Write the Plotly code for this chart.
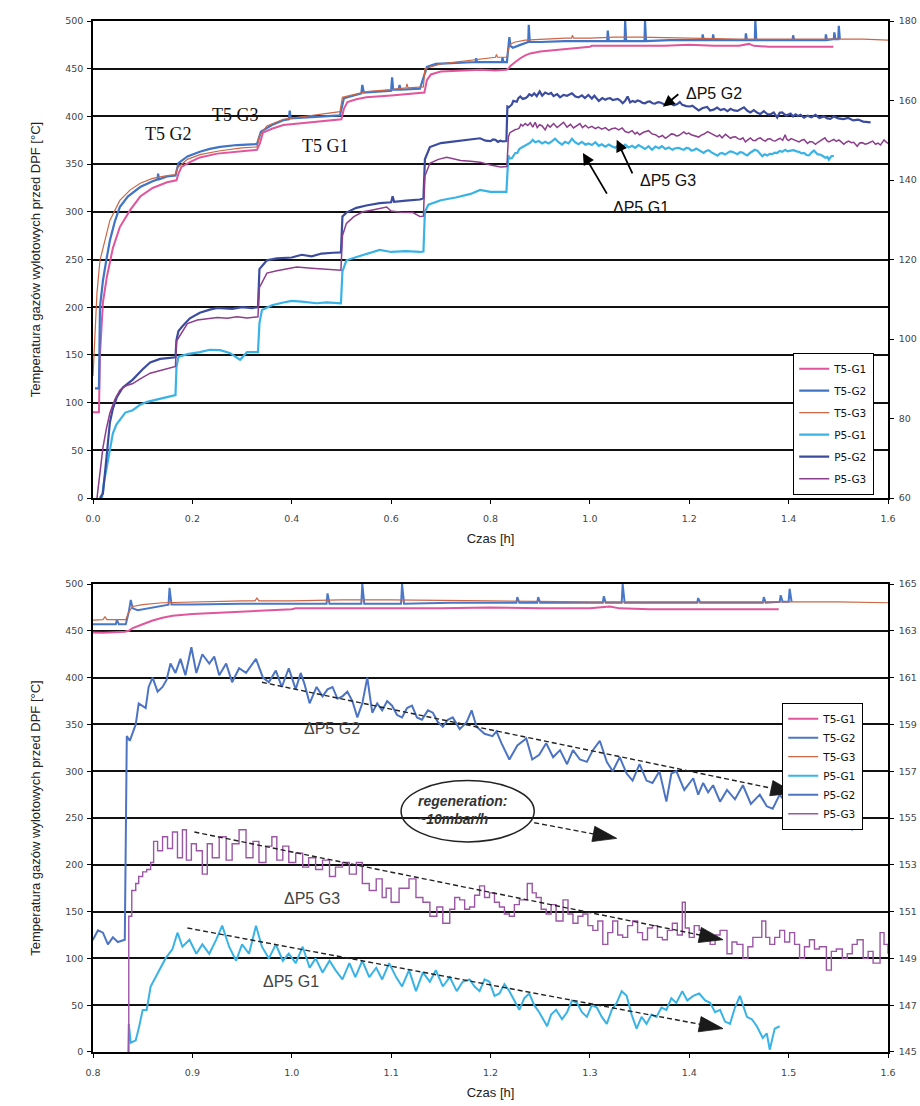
import plotly.graph_objects as go

# ---------------- DATA ----------------
# T5: exhaust gas temperature before DPF [°C] (left axis); time [h]
t5_g1_t = [0.0, 0.012, 0.014, 0.02, 0.028, 0.04, 0.054, 0.075, 0.095, 0.12,
           0.149, 0.168, 0.172, 0.178, 0.195, 0.215, 0.25, 0.282, 0.31, 0.33,
           0.336, 0.342, 0.36, 0.383, 0.42, 0.45, 0.483, 0.5, 0.505, 0.512,
           0.53, 0.55, 0.6, 0.63, 0.658, 0.667, 0.672, 0.68, 0.7, 0.74,
           0.78, 0.81, 0.832, 0.836, 0.84, 0.85, 0.86, 0.87, 0.88, 0.9,
           0.92, 0.95, 0.98, 1.0, 1.004, 1.05, 1.1, 1.15, 1.2, 1.25,
           1.3, 1.32, 1.33, 1.36, 1.4, 1.45, 1.49]
t5_g1_v = [90, 90, 150, 205, 232, 262, 284, 302, 316, 325,
           331, 333, 340, 347, 352, 357, 361, 363, 364, 365,
           372, 383, 387, 391, 393, 395, 396, 397, 408, 415,
           418, 420, 422, 423, 424, 425, 438, 444, 447, 448,
           449, 448, 449, 450, 453, 457, 461, 464, 466, 468,
           469, 471, 472, 473, 474, 474, 474, 474, 475, 474,
           474, 476, 474, 473, 473, 473, 473]

t5_g2_t = [0.004, 0.012, 0.014, 0.02, 0.027, 0.034, 0.044, 0.054, 0.07, 0.095,
           0.12, 0.13, 0.131, 0.133, 0.149, 0.166, 0.172, 0.19, 0.215, 0.235,
           0.256, 0.29, 0.33, 0.338, 0.36, 0.383, 0.394, 0.396, 0.398, 0.44,
           0.497, 0.505, 0.53, 0.54, 0.542, 0.545, 0.6, 0.602, 0.604, 0.615,
           0.617, 0.619, 0.658, 0.672, 0.69, 0.72, 0.77, 0.771, 0.773, 0.8,
           0.823, 0.824, 0.826, 0.833, 0.836, 0.838, 0.84, 0.845, 0.86, 0.876,
           0.877, 0.879, 0.9, 0.95, 1.0, 1.035, 1.036, 1.038, 1.07, 1.071,
           1.073, 1.11, 1.111, 1.113, 1.16, 1.226, 1.227, 1.229, 1.247, 1.248,
           1.25, 1.313, 1.314, 1.316, 1.332, 1.333, 1.335, 1.408, 1.409, 1.411,
           1.474, 1.475, 1.477, 1.491, 1.492, 1.494, 1.5, 1.501, 1.503]
t5_g2_v = [115, 115, 200, 228, 250, 270, 290, 305, 316, 326,
           332, 334, 340, 334, 337, 338, 351, 358, 363, 366,
           368, 370, 371, 384, 391, 396, 397, 406, 398, 399,
           401, 419, 422, 424, 433, 425, 427, 441, 428, 428,
           433, 428, 429, 452, 455, 456, 457, 461, 457, 457,
           457, 462, 457, 457, 470, 483, 474, 472, 475, 478,
           496, 478, 478, 479, 479, 479, 490, 479, 479, 500,
           479, 479, 500, 479, 480, 480, 486, 480, 480, 486,
           480, 480, 487, 480, 480, 500, 480, 480, 485, 480,
           480, 486, 480, 481, 488, 481, 481, 495, 481]

t5_g3_t = [0.0, 0.004, 0.008, 0.014, 0.02, 0.034, 0.054, 0.075, 0.095, 0.12,
           0.149, 0.166, 0.17, 0.19, 0.215, 0.256, 0.3, 0.33, 0.335, 0.35,
           0.383, 0.45, 0.497, 0.502, 0.55, 0.6, 0.63, 0.632, 0.634, 0.665,
           0.668, 0.7, 0.75, 0.8, 0.81, 0.812, 0.814, 0.833, 0.836, 0.84,
           0.85, 0.87, 0.9, 0.95, 0.963, 0.965, 0.967, 1.0, 1.05, 1.1,
           1.2, 1.3, 1.4, 1.5, 1.55, 1.6]
t5_g3_v = [128, 170, 215, 249, 262, 291, 312, 323, 330, 335,
           338, 339, 346, 355, 360, 364, 367, 368, 380, 390,
           397, 402, 405, 420, 426, 428, 430, 434, 430, 431,
           450, 455, 458, 461, 462, 465, 462, 462, 470, 476,
           478, 480, 481, 482, 482, 485, 482, 482, 483, 483,
           482, 481, 481, 481, 481, 480]

# P5: pressure drop over DPF [mbar] (right axis); time [h]
p5_g1_t = [0.018, 0.022, 0.028, 0.034, 0.04, 0.047, 0.054, 0.065, 0.08, 0.095,
           0.109, 0.13, 0.149, 0.166, 0.168, 0.172, 0.19, 0.215, 0.235, 0.256,
           0.275, 0.296, 0.31, 0.332, 0.335, 0.34, 0.36, 0.383, 0.4, 0.42,
           0.45, 0.47, 0.499, 0.502, 0.51, 0.54, 0.577, 0.6, 0.63, 0.658,
           0.665, 0.668, 0.675, 0.7, 0.73, 0.76, 0.779, 0.8, 0.832, 0.836,
           0.838, 0.843, 0.846, 0.85, 0.854, 0.858, 0.863, 0.868, 0.873, 0.88,
           0.885, 0.89, 0.897, 0.904, 0.91, 0.917, 0.924, 0.93, 0.937, 0.944,
           0.95, 0.957, 0.964, 0.97, 0.977, 0.984, 0.991, 0.997, 1.004, 1.011,
           1.018, 1.024, 1.031, 1.038, 1.044, 1.051, 1.058, 1.064, 1.071, 1.078,
           1.085, 1.091, 1.098, 1.105, 1.111, 1.118, 1.125, 1.132, 1.139, 1.145,
           1.152, 1.159, 1.166, 1.172, 1.179, 1.184, 1.189, 1.194, 1.199, 1.204,
           1.209, 1.214, 1.219, 1.224, 1.229, 1.234, 1.239, 1.244, 1.249, 1.257,
           1.261, 1.266, 1.272, 1.277, 1.282, 1.287, 1.292, 1.297, 1.302, 1.307,
           1.312, 1.317, 1.322, 1.327, 1.332, 1.337, 1.342, 1.347, 1.352, 1.357,
           1.362, 1.367, 1.372, 1.377, 1.382, 1.387, 1.393, 1.398, 1.404, 1.41,
           1.416, 1.421, 1.426, 1.431, 1.436, 1.441, 1.446, 1.451, 1.458, 1.463,
           1.468, 1.474, 1.478, 1.481, 1.486, 1.491]
p5_g1_v = [60.0, 64.0, 67.9, 72.0, 76.3, 78.5, 79.7, 81.5, 82.1, 83.5,
           84.2, 84.9, 85.4, 85.9, 93.0, 95.5, 96.2, 96.7, 97.3, 97.2,
           96.5, 94.8, 96.7, 96.7, 104.0, 107.3, 108.5, 109.2, 109.6, 109.4,
           109.0, 109.2, 109.0, 117.0, 119.8, 121.0, 122.4, 121.9, 122.1, 121.9,
           122.0, 132.0, 133.8, 134.9, 135.6, 136.5, 137.5, 137.0, 137.0, 146.2,
           145.4, 145.5, 146.0, 146.8, 146.8, 147.8, 148.2, 148.6, 149.0, 149.4,
           150.1, 149.5, 149.8, 149.2, 149.6, 149.2, 149.8, 150.4, 149.5, 148.9,
           149.6, 149.2, 150.4, 149.5, 149.0, 149.6, 148.9, 149.2, 148.8, 149.5,
           148.6, 149.0, 148.4, 148.9, 148.5, 148.1, 148.8, 148.2, 148.9, 148.2,
           148.6, 148.1, 148.8, 148.2, 147.8, 148.5, 147.6, 148.4, 148.0, 148.5,
           147.8, 148.2, 147.6, 148.0, 148.1, 147.8, 147.6, 148.1, 148.0, 147.4,
           147.5, 147.9, 147.6, 147.2, 146.8, 147.3, 147.5, 147.0, 146.7, 146.1,
           146.6, 146.8, 146.4, 146.7, 147.2, 147.1, 146.7, 146.5, 147.0, 146.9,
           146.5, 146.2, 146.8, 147.1, 147.6, 147.4, 146.6, 146.0, 146.5, 146.2,
           146.6, 146.5, 146.9, 146.8, 147.3, 147.1, 147.6, 147.2, 147.4, 147.5,
           147.2, 147.1, 146.7, 146.8, 146.3, 146.2, 146.9, 147.4, 146.5, 146.4,
           146.1, 145.6, 145.8, 145.1, 146.0, 146.1]

p5_g2_t = [0.014, 0.02, 0.027, 0.034, 0.04, 0.048, 0.06, 0.08, 0.1, 0.115,
           0.135, 0.155, 0.166, 0.168, 0.172, 0.18, 0.195, 0.215, 0.235, 0.25,
           0.28, 0.3, 0.32, 0.332, 0.335, 0.35, 0.37, 0.4, 0.42, 0.44,
           0.46, 0.483, 0.499, 0.502, 0.51, 0.53, 0.55, 0.577, 0.6, 0.603,
           0.606, 0.63, 0.658, 0.665, 0.668, 0.678, 0.7, 0.72, 0.75, 0.779,
           0.79, 0.8, 0.805, 0.81, 0.815, 0.82, 0.825, 0.832, 0.834, 0.837,
           0.843, 0.846, 0.853, 0.856, 0.86, 0.865, 0.87, 0.874, 0.878, 0.883,
           0.888, 0.893, 0.899, 0.904, 0.91, 0.917, 0.922, 0.927, 0.934, 0.94,
           0.947, 0.954, 0.959, 0.964, 0.971, 0.977, 0.984, 0.99, 0.997, 1.004,
           1.009, 1.013, 1.018, 1.025, 1.031, 1.036, 1.041, 1.046, 1.051, 1.056,
           1.061, 1.066, 1.071, 1.076, 1.081, 1.086, 1.091, 1.096, 1.101, 1.106,
           1.111, 1.116, 1.121, 1.126, 1.131, 1.137, 1.142, 1.147, 1.152, 1.157,
           1.162, 1.169, 1.176, 1.181, 1.186, 1.194, 1.202, 1.206, 1.211, 1.219,
           1.227, 1.236, 1.242, 1.249, 1.256, 1.263, 1.27, 1.277, 1.283, 1.29,
           1.297, 1.303, 1.31, 1.317, 1.323, 1.33, 1.337, 1.343, 1.35, 1.357,
           1.363, 1.37, 1.377, 1.382, 1.387, 1.395, 1.404, 1.409, 1.414, 1.419,
           1.424, 1.431, 1.438, 1.446, 1.454, 1.462, 1.471, 1.478, 1.484, 1.491,
           1.5, 1.51, 1.52, 1.53, 1.54, 1.55, 1.565]
p5_g2_v = [60.0, 61.2, 70.0, 79.0, 82.5, 85.4, 87.8, 89.8, 92.4, 94.1,
           95.0, 95.3, 95.4, 99.8, 102.0, 103.2, 105.2, 106.6, 107.4, 107.8,
           107.6, 108.0, 107.8, 108.0, 117.6, 119.8, 120.3, 120.5, 121.2, 120.8,
           121.5, 121.7, 121.8, 130.8, 131.8, 133.0, 133.6, 134.2, 134.4, 135.9,
           134.5, 134.8, 135.1, 135.4, 145.2, 148.3, 149.3, 149.6, 150.0, 150.5,
           149.9, 149.8, 150.2, 150.1, 149.6, 149.9, 149.7, 149.8, 158.5, 158.3,
           159.0, 159.9, 159.7, 160.6, 161.0, 160.4, 160.6, 160.9, 161.6, 161.2,
           161.8, 161.1, 162.3, 161.2, 162.0, 161.6, 161.9, 161.1, 161.6, 160.8,
           161.4, 161.2, 161.5, 161.8, 161.0, 160.8, 161.3, 160.6, 161.4, 160.5,
           161.2, 160.7, 159.9, 160.6, 160.2, 160.5, 160.6, 160.1, 160.2, 160.4,
           160.0, 159.3, 159.9, 161.0, 159.5, 159.9, 159.6, 160.0, 159.8, 159.4,
           159.3, 159.7, 159.8, 159.3, 159.2, 159.6, 159.5, 159.1, 158.9, 159.2,
           159.3, 158.8, 159.1, 159.6, 158.9, 158.6, 158.5, 158.7, 158.2, 157.5,
           158.1, 158.4, 157.5, 157.7, 158.2, 157.6, 157.9, 157.3, 157.9, 157.5,
           157.4, 157.9, 158.3, 157.4, 157.0, 157.6, 156.9, 156.6, 157.3, 156.6,
           156.5, 157.0, 155.7, 156.9, 157.0, 156.2, 156.7, 156.0, 156.5, 156.1,
           156.4, 155.7, 156.2, 155.8, 156.4, 155.6, 156.0, 155.5, 155.4, 156.0,
           155.5, 155.3, 155.6, 155.0, 155.2, 154.7, 154.5]

p5_g3_t = [0.008, 0.014, 0.02, 0.027, 0.034, 0.044, 0.054, 0.065, 0.08, 0.095,
           0.115, 0.13, 0.149, 0.166, 0.168, 0.175, 0.19, 0.21, 0.25, 0.27,
           0.29, 0.31, 0.332, 0.335, 0.35, 0.37, 0.41, 0.44, 0.46, 0.483,
           0.499, 0.502, 0.51, 0.525, 0.543, 0.56, 0.575, 0.591, 0.6, 0.62,
           0.644, 0.658, 0.665, 0.668, 0.678, 0.695, 0.712, 0.74, 0.76, 0.779,
           0.8, 0.82, 0.833, 0.836, 0.839, 0.843, 0.846, 0.85, 0.854, 0.858,
           0.861, 0.865, 0.87, 0.875, 0.88, 0.885, 0.89, 0.894, 0.899, 0.904,
           0.91, 0.915, 0.92, 0.927, 0.934, 0.94, 0.947, 0.954, 0.961, 0.967,
           0.974, 0.98, 0.985, 0.991, 0.997, 1.004, 1.011, 1.017, 1.024, 1.031,
           1.038, 1.044, 1.051, 1.058, 1.065, 1.071, 1.078, 1.085, 1.091, 1.095,
           1.1, 1.108, 1.118, 1.125, 1.132, 1.139, 1.146, 1.152, 1.159, 1.164,
           1.169, 1.174, 1.179, 1.184, 1.189, 1.194, 1.199, 1.204, 1.209, 1.214,
           1.219, 1.224, 1.229, 1.237, 1.242, 1.246, 1.251, 1.256, 1.261, 1.266,
           1.273, 1.278, 1.283, 1.288, 1.293, 1.298, 1.303, 1.308, 1.313, 1.318,
           1.323, 1.328, 1.333, 1.338, 1.343, 1.348, 1.353, 1.358, 1.363, 1.368,
           1.373, 1.378, 1.383, 1.388, 1.393, 1.396, 1.4, 1.405, 1.41, 1.416,
           1.421, 1.426, 1.431, 1.438, 1.443, 1.448, 1.454, 1.459, 1.464, 1.473,
           1.477, 1.481, 1.486, 1.491, 1.496, 1.501, 1.506, 1.511, 1.516, 1.521,
           1.526, 1.531, 1.538, 1.543, 1.548, 1.554, 1.559, 1.564, 1.569, 1.575,
           1.58, 1.585, 1.592, 1.596, 1.6]
p5_g3_v = [60.0, 66.0, 72.7, 77.5, 81.4, 84.8, 87.1, 88.2, 88.8, 90.0,
           91.4, 91.9, 92.6, 93.1, 99.5, 101.0, 103.9, 104.8, 105.4, 105.2,
           105.6, 105.3, 105.6, 113.0, 116.6, 117.2, 118.1, 117.8, 117.6, 117.4,
           117.3, 126.0, 129.1, 130.8, 132.0, 132.4, 132.8, 133.2, 132.2, 131.9,
           131.8, 130.8, 130.9, 141.0, 144.2, 145.2, 145.7, 144.9, 144.7, 144.5,
           143.8, 143.3, 143.4, 150.8, 151.9, 152.2, 152.5, 152.7, 152.8, 153.1,
           154.0, 153.6, 154.2, 153.7, 154.4, 153.3, 154.5, 153.2, 153.9, 153.6,
           152.6, 153.9, 153.3, 154.2, 153.2, 153.9, 154.5, 153.3, 154.0, 153.1,
           153.8, 154.2, 153.2, 153.8, 153.1, 153.5, 152.9, 153.3, 152.8, 153.2,
           152.5, 152.9, 153.1, 152.6, 153.1, 152.2, 151.9, 152.4, 151.6, 152.0,
           151.4, 152.0, 152.4, 151.6, 151.4, 150.8, 151.2, 150.5, 151.1, 151.6,
           151.5, 151.1, 151.2, 151.7, 152.1, 151.6, 151.8, 151.4, 151.2, 150.9,
           150.8, 151.3, 151.5, 152.2, 151.8, 151.6, 151.1, 150.9, 151.3, 150.6,
           151.5, 150.9, 150.5, 150.8, 150.9, 150.4, 150.2, 150.6, 149.6, 150.1,
           150.6, 150.0, 149.9, 150.4, 150.6, 150.1, 149.8, 150.3, 150.4, 149.9,
           149.8, 150.2, 150.5, 150.0, 151.4, 150.3, 149.9, 150.4, 150.2, 149.8,
           149.6, 150.0, 150.2, 149.2, 149.7, 149.6, 149.0, 149.5, 149.9, 150.6,
           149.9, 149.6, 149.9, 150.2, 149.7, 150.1, 149.6, 149.0, 149.5, 149.8,
           149.4, 149.5, 148.5, 149.3, 149.4, 149.0, 149.2, 149.6, 149.8, 149.0,
           149.3, 148.8, 150.1, 149.6, 149.2]

series_names = ["T5-G1", "T5-G2", "T5-G3", "P5-G1", "P5-G2", "P5-G3"]

# Trend lines drawn on the lower chart (time [h], mbar)
trend_g2 = ([0.970, 1.506], [160.8, 156.07])
trend_g3 = ([0.902, 1.434], [154.4, 149.8])
trend_g1 = ([0.895, 1.434], [150.3, 146.0])
regen_arrow = ([1.244, 1.327], [154.8, 154.13])

# ---------------- FIGURE ----------------
data = {
    "T5-G1": (t5_g1_t, t5_g1_v), "T5-G2": (t5_g2_t, t5_g2_v), "T5-G3": (t5_g3_t, t5_g3_v),
    "P5-G1": (p5_g1_t, p5_g1_v), "P5-G2": (p5_g2_t, p5_g2_v), "P5-G3": (p5_g3_t, p5_g3_v),
}
for k, (a, b) in data.items():
    assert len(a) == len(b), (k, len(a), len(b))

style_top = {
    "T5-G1": dict(color="#e0559b", width=2.0),
    "T5-G2": dict(color="#3f74c6", width=2.2),
    "T5-G3": dict(color="#cc6644", width=1.2),
    "P5-G1": dict(color="#39b3e6", width=2.2),
    "P5-G2": dict(color="#3b4c9f", width=2.2),
    "P5-G3": dict(color="#8c3d8c", width=1.5),
}
style_bot = {
    "T5-G1": dict(color="#e0559b", width=2.0),
    "T5-G2": dict(color="#4a78c8", width=2.0),
    "T5-G3": dict(color="#cc6644", width=1.2),
    "P5-G1": dict(color="#39b3e6", width=2.0),
    "P5-G2": dict(color="#4c74c3", width=2.0),
    "P5-G3": dict(color="#9c56a6", width=1.4),
}

fig = go.Figure()
for name in series_names:
    t, v = data[name]
    is_p = name.startswith("P5")
    fig.add_trace(go.Scatter(x=t, y=v, mode="lines", name=name, line=style_top[name],
                             xaxis="x", yaxis="y2" if is_p else "y",
                             legend="legend", legendgroup="top" + name))
for name in series_names:
    t, v = data[name]
    is_p = name.startswith("P5")
    shape = "hv" if name == "P5-G3" else "linear"
    fig.add_trace(go.Scatter(x=t, y=v, mode="lines", name=name,
                             line=dict(**style_bot[name], shape=shape),
                             xaxis="x2", yaxis="y4" if is_p else "y3",
                             legend="legend2", legendgroup="bot" + name))

# dashed trend arrows (lower chart)
for tx, ty in [trend_g2, trend_g3, trend_g1, regen_arrow]:
    fig.add_trace(go.Scatter(x=tx, y=ty, mode="lines+markers", xaxis="x2", yaxis="y4",
                             showlegend=False, hoverinfo="skip",
                             line=dict(color="#222", width=1.4, dash="5px,3px"),
                             marker=dict(symbol="arrow", size=[0, 25], color="#1a1a1a",
                                         opacity=1, line=dict(width=0.8, color="#1a1a1a"),
                                         angleref="previous")))

tickfont = dict(family="DejaVu Sans", size=9.5, color="#444")
title_font = dict(family="Liberation Sans, Arial", size=13, color="#222")
base = dict(showline=True, linecolor="black", linewidth=1.5, ticks="outside", ticklen=4,
            tickwidth=1.2, tickcolor="black", tickfont=tickfont, showgrid=False,
            zeroline=False, automargin=False)
ytitle = "Temperatura gazów wylotowych przed DPF [°C]"

top_dom = [0.5373, 1.0]
bot_dom = [0.0, 0.4539]

fig.update_layout(
    width=920, height=1106,
    margin=dict(l=93, r=32, t=21, b=54),
    paper_bgcolor="white", plot_bgcolor="white",
    font=dict(family="Liberation Sans, Arial", size=11, color="#222"),
    xaxis=dict(base, domain=[0, 1], anchor="y", range=[0, 1.6], dtick=0.2, tickformat=".1f",
               mirror=True, ticklabelstandoff=7,
               title=dict(text="Czas [h]", font=title_font, standoff=11)),
    yaxis=dict(base, domain=top_dom, anchor="x", range=[0, 500], dtick=50,
               showgrid=True, gridcolor="#111", gridwidth=1.6, ticklabelstandoff=2,
               title=dict(text=ytitle, font=title_font, standoff=22)),
    yaxis2=dict(base, overlaying="y", side="right", anchor="x", range=[60, 180], dtick=20,
                ticklabelstandoff=3),
    xaxis2=dict(base, domain=[0, 1], anchor="y3", range=[0.8, 1.6], dtick=0.1, tickformat=".1f",
                mirror=True, ticklabelstandoff=7,
                title=dict(text="Czas [h]", font=title_font, standoff=11)),
    yaxis3=dict(base, domain=bot_dom, anchor="x2", range=[0, 500], dtick=50,
                showgrid=True, gridcolor="#111", gridwidth=1.6, ticklabelstandoff=2,
                title=dict(text=ytitle, font=title_font, standoff=22)),
    yaxis4=dict(base, overlaying="y3", side="right", anchor="x2", range=[145, 165],
                tick0=145, dtick=2, ticklabelstandoff=3),
    legend=dict(x=0.8805, y=0.678, xanchor="left", yanchor="top", bgcolor="white",
                bordercolor="black", borderwidth=1.2, tracegroupgap=3,
                font=dict(family="DejaVu Sans", size=10.5, color="#111"), itemwidth=30),
    legend2=dict(x=0.8667, y=0.3385, xanchor="left", yanchor="top", bgcolor="white",
                 bordercolor="black", borderwidth=1.2, tracegroupgap=0,
                 font=dict(family="DejaVu Sans", size=10.5, color="#111"), itemwidth=30),
)

ann = []
serif = dict(family="Liberation Serif, Times New Roman", size=18, color="#111")
sans = dict(family="Liberation Sans, Arial", size=16, color="#111")
for txt, x, y in [("T5 G2", 0.151, 381.6), ("T5 G3", 0.286, 401.5), ("T5 G1", 0.467, 369)]:
    ann.append(dict(text=txt, x=x, y=y, xref="x", yref="y", showarrow=False, font=serif))
for txt, x, y in [("ΔP5 G2", 1.249, 423.5), ("ΔP5 G3", 1.157, 333), ("ΔP5 G1", 1.103, 305)]:
    ann.append(dict(text=txt, x=x, y=y, xref="x", yref="y", showarrow=False, font=sans))
for (tx, ty), (hx, hy) in [((1.181, 161.9), (1.147, 158.4)),
                           ((1.087, 141.3), (1.054, 150.1)),
                           ((1.036, 136.2), (0.986, 146.8))]:
    ann.append(dict(text="", x=hx, y=hy, xref="x", yref="y2", ax=tx, ay=ty, axref="x",
                    ayref="y2", showarrow=True, arrowhead=2, arrowsize=1.3, arrowwidth=1.8,
                    arrowcolor="black", standoff=0, startstandoff=0))
sans_b = dict(family="Liberation Sans, Arial", size=16, color="#444")
for txt, x, y in [("ΔP5 G2", 1.04, 346), ("ΔP5 G3", 1.02, 163.5), ("ΔP5 G1", 0.9995, 74.8)]:
    ann.append(dict(text=txt, x=x, y=y, xref="x2", yref="y3", showarrow=False, font=sans_b))
ann.append(dict(text="<b><i>regeneration:</i></b><br><b><i>~10mbar/h</i></b>", x=1.1255, y=259,
                xref="x2", yref="y3", xanchor="left", align="left", showarrow=False,
                font=dict(family="Liberation Sans, Arial", size=14, color="#333")))
fig.update_layout(annotations=ann)

fig.add_shape(type="circle", xref="x2", yref="y4", x0=1.110, x1=1.244, y0=153.98, y1=156.6,
              line=dict(color="#222", width=1.5))

fig.write_html("out.html", config={"displayModeBar": False},
               post_script="document.body.style.margin='0';")
